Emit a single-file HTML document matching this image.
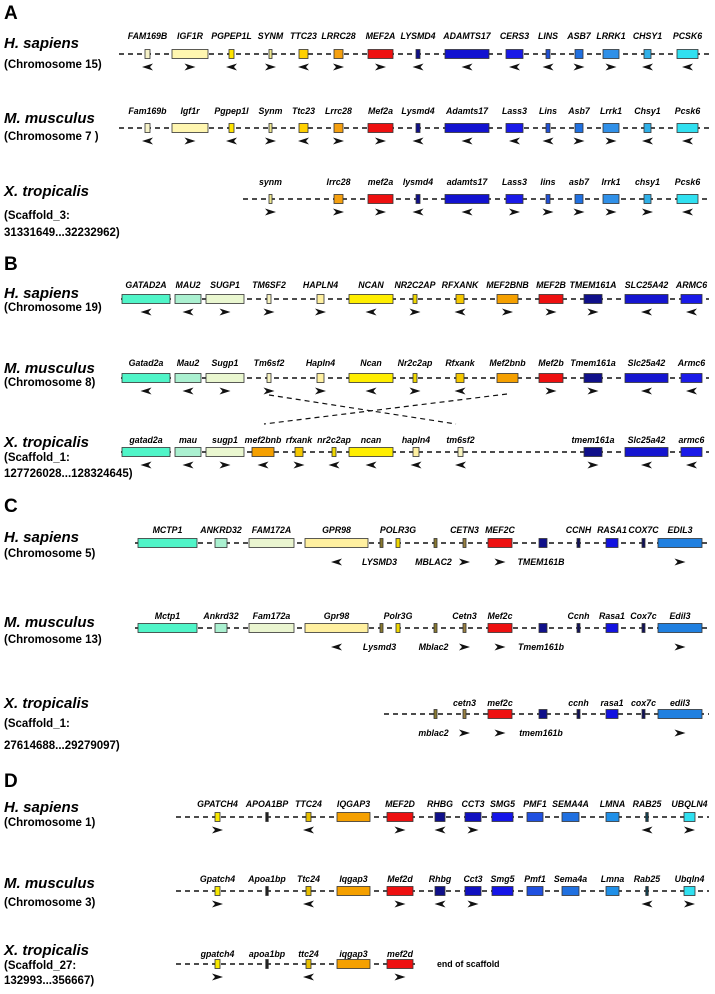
<!DOCTYPE html>
<html><head><meta charset="utf-8"><style>
html,body{margin:0;padding:0;background:#fff;}
svg{display:block;font-family:"Liberation Sans",sans-serif;}
.sp{font-size:15px;font-weight:bold;font-style:italic;}
.sub{font-size:11.5px;font-weight:bold;}
.pl{font-size:19px;font-weight:bold;}
.g{font-size:8.8px;font-weight:bold;font-style:italic;}
</style></head><body>
<svg id="chart" width="715" height="994" viewBox="0 0 715 994" xmlns="http://www.w3.org/2000/svg">
<g>
<text class="pl" x="4" y="19">A</text><text class="pl" x="4" y="270">B</text><text class="pl" x="4" y="512">C</text><text class="pl" x="4" y="787">D</text>
</g>
<g>
<text class="sp" x="4" y="48">H. sapiens</text><text class="sub" x="4" y="68">(Chromosome 15)</text>
<text class="sp" x="4" y="123">M. musculus</text><text class="sub" x="4" y="140">(Chromosome 7 )</text>
<text class="sp" x="4" y="196">X. tropicalis</text><text class="sub" x="4" y="219">(Scaffold_3:</text><text class="sub" x="4" y="236">31331649...32232962)</text>
<text class="sp" x="4" y="298">H. sapiens</text><text class="sub" x="4" y="311">(Chromosome 19)</text>
<text class="sp" x="4" y="373">M. musculus</text><text class="sub" x="4" y="386">(Chromosome 8)</text>
<text class="sp" x="4" y="447">X. tropicalis</text><text class="sub" x="4" y="461">(Scaffold_1:</text><text class="sub" x="4" y="477">127726028...128324645)</text>
<text class="sp" x="4" y="542">H. sapiens</text><text class="sub" x="4" y="557">(Chromosome 5)</text>
<text class="sp" x="4" y="627">M. musculus</text><text class="sub" x="4" y="643">(Chromosome 13)</text>
<text class="sp" x="4" y="708">X. tropicalis</text><text class="sub" x="4" y="727">(Scaffold_1:</text><text class="sub" x="4" y="749">27614688...29279097)</text>
<text class="sp" x="4" y="812">H. sapiens</text><text class="sub" x="4" y="826">(Chromosome 1)</text>
<text class="sp" x="4" y="888">M. musculus</text><text class="sub" x="4" y="906">(Chromosome 3)</text>
<text class="sp" x="4" y="955">X. tropicalis</text><text class="sub" x="4" y="969">(Scaffold_27:</text><text class="sub" x="4" y="984">132993...356667)</text>
</g>
<g id="rows"></g>
<line x1="269" y1="395" x2="456" y2="424" stroke="#111" stroke-width="1.2" stroke-dasharray="5,4"/>
<line x1="507" y1="394" x2="264" y2="424" stroke="#111" stroke-width="1.2" stroke-dasharray="5,4"/>
<text x="437" y="967" font-size="8.8" font-weight="bold">end of scaffold</text>
</svg>
<script>
const genesA = [["fam169b",145,150,"#f6f2c8"],["igf1r",172,208,"#fff6b0"],["pgpep1l",229,234,"#ffe400"],["synm",269,272,"#f0e890"],["ttc23",299,308,"#ffd000"],["lrrc28",334,343,"#f5a010"],["mef2a",368,393,"#ee1010"],["lysmd4",416,420,"#10108a"],["adamts17",445,489,"#1212d0"],["cers3",506,523,"#1a1ae8"],["lins",546,550,"#2050d8"],["asb7",575,583,"#2070e0"],["lrrk1",603,619,"#3090e8"],["chsy1",644,651,"#30b0e8"],["pcsk6",677,698,"#30e0f0"]];
const genesB = [["gatad2a",122,170,"#50f5c8"],["mau2",175,201,"#aaf0d0"],["sugp1",206,244,"#eaf7d0"],["tm6sf2",267,271,"#f8f4c0"],["hapln4",317,324,"#fff0a0"],["ncan",349,393,"#ffee00"],["nr2c2ap",413,417,"#f0d800"],["rfxank",456,464,"#f5c800"],["mef2bnb",497,518,"#f5a000"],["mef2b",539,563,"#ee1010"],["tmem161a",584,602,"#10108a"],["slc25a42",625,668,"#1515d0"],["armc6",681,702,"#1a1ae8"],
 ["x_mef2bnb",252,274,"#f5a000"],["x_rfxank",295,303,"#f5c800"],["x_nr2c2ap",332,336,"#f0d800"],["x_hapln4",413,419,"#fff0a0"],["x_tm6sf2",458,463,"#f8f4c0"]];
const genesC = [["mctp1",138,197,"#50f5c8"],["ankrd32",215,227,"#aaf0d0"],["fam172a",249,294,"#eaf5d0"],["gpr98",305,368,"#fff0a0"],["lysmd3",380,383,"#8a7a30"],["polr3g",396,400,"#f0d800"],["mblac2",434,437,"#8a7a30"],["cetn3",463,466,"#9a8040"],["mef2c",488,512,"#ee1010"],["tmem161b",539,547,"#10108a"],["ccnh",577,580,"#10105a"],["rasa1",606,618,"#1212e0"],["cox7c",642,645,"#10105a"],["edil3",658,702,"#2080e0"]];
const genesD = [["gpatch4",215,220,"#f8e800"],["apoa1bp",266,268,"#202020"],["ttc24",306,311,"#e8c000"],["iqgap3",337,370,"#f5a000"],["mef2d",387,413,"#ee1010"],["rhbg",435,445,"#10108a"],["cct3",465,481,"#1010c0"],["smg5",492,513,"#1515e8"],["pmf1",527,543,"#2050e0"],["sema4a",562,579,"#2070e0"],["lmna",606,619,"#2090e8"],["rab25",646,648,"#104050"],["ubqln4",684,695,"#30e0f0"]];

const rowLines = [[54,119,709,-18],[128,119,709,-17],[199,243,709,-17],[299,121,709,-14],[378,121,709,-15],[452,121,709,-12],[543,135,709,-13],[628,135,709,-12],[714,384,709,-11],[817,176,709,-13],[891,176,709,-12],[964,176,419,-10]];

const rowGenes = [
 [["fam169b","FAM169B",-1],["igf1r","IGF1R",1],["pgpep1l","PGPEP1L",-1],["synm","SYNM",1],["ttc23","TTC23",-1],["lrrc28","LRRC28",1],["mef2a","MEF2A",1],["lysmd4","LYSMD4",-1],["adamts17","ADAMTS17",-1],["cers3","CERS3",-1],["lins","LINS",-1],["asb7","ASB7",1],["lrrk1","LRRK1",1],["chsy1","CHSY1",-1],["pcsk6","PCSK6",-1]],
 [["fam169b","Fam169b",-1],["igf1r","Igf1r",1],["pgpep1l","Pgpep1l",-1],["synm","Synm",1],["ttc23","Ttc23",-1],["lrrc28","Lrrc28",1],["mef2a","Mef2a",1],["lysmd4","Lysmd4",-1],["adamts17","Adamts17",-1],["cers3","Lass3",-1],["lins","Lins",-1],["asb7","Asb7",1],["lrrk1","Lrrk1",1],["chsy1","Chsy1",-1],["pcsk6","Pcsk6",-1]],
 [["synm","synm",1],["lrrc28","lrrc28",1],["mef2a","mef2a",1],["lysmd4","lysmd4",-1],["adamts17","adamts17",-1],["cers3","Lass3",1],["lins","lins",1],["asb7","asb7",1],["lrrk1","lrrk1",1],["chsy1","chsy1",1],["pcsk6","Pcsk6",-1]],
 [["gatad2a","GATAD2A",-1],["mau2","MAU2",-1],["sugp1","SUGP1",1],["tm6sf2","TM6SF2",1],["hapln4","HAPLN4",1],["ncan","NCAN",-1],["nr2c2ap","NR2C2AP",1],["rfxank","RFXANK",-1],["mef2bnb","MEF2BNB",1],["mef2b","MEF2B",1],["tmem161a","TMEM161A",1],["slc25a42","SLC25A42",-1],["armc6","ARMC6",-1]],
 [["gatad2a","Gatad2a",-1],["mau2","Mau2",-1],["sugp1","Sugp1",1],["tm6sf2","Tm6sf2",1],["hapln4","Hapln4",1],["ncan","Ncan",-1],["nr2c2ap","Nr2c2ap",1],["rfxank","Rfxank",-1],["mef2bnb","Mef2bnb",0],["mef2b","Mef2b",1],["tmem161a","Tmem161a",1],["slc25a42","Slc25a42",-1],["armc6","Armc6",-1]],
 [["gatad2a","gatad2a",-1],["mau2","mau",-1],["sugp1","sugp1",1],["x_mef2bnb","mef2bnb",-1],["x_rfxank","rfxank",1],["x_nr2c2ap","nr2c2ap",-1],["ncan","ncan",-1],["x_hapln4","hapln4",-1],["x_tm6sf2","tm6sf2",-1],["tmem161a","tmem161a",1],["slc25a42","Slc25a42",-1],["armc6","armc6",-1]],
 [["mctp1","MCTP1",0],["ankrd32","ANKRD32",0],["fam172a","FAM172A",0],["gpr98","GPR98",-1],["lysmd3","LYSMD3",0,"b"],["polr3g","POLR3G",0],["mblac2","MBLAC2",0,"b"],["cetn3","CETN3",1],["mef2c","MEF2C",1],["tmem161b","TMEM161B",0,"b"],["ccnh","CCNH",0],["rasa1","RASA1",0],["cox7c","COX7C",0],["edil3","EDIL3",1]],
 [["mctp1","Mctp1",0],["ankrd32","Ankrd32",0],["fam172a","Fam172a",0],["gpr98","Gpr98",-1],["lysmd3","Lysmd3",0,"b"],["polr3g","Polr3G",0],["mblac2","Mblac2",0,"b"],["cetn3","Cetn3",1],["mef2c","Mef2c",1],["tmem161b","Tmem161b",0,"b"],["ccnh","Ccnh",0],["rasa1","Rasa1",0],["cox7c","Cox7c",0],["edil3","Edil3",1]],
 [["mblac2","mblac2",0,"b"],["cetn3","cetn3",1],["mef2c","mef2c",1],["tmem161b","tmem161b",0,"b"],["ccnh","ccnh",0],["rasa1","rasa1",0],["cox7c","cox7c",0],["edil3","edil3",1]],
 [["gpatch4","GPATCH4",1],["apoa1bp","APOA1BP",0],["ttc24","TTC24",-1],["iqgap3","IQGAP3",0],["mef2d","MEF2D",1],["rhbg","RHBG",-1],["cct3","CCT3",1],["smg5","SMG5",0],["pmf1","PMF1",0],["sema4a","SEMA4A",0],["lmna","LMNA",0],["rab25","RAB25",-1],["ubqln4","UBQLN4",1]],
 [["gpatch4","Gpatch4",1],["apoa1bp","Apoa1bp",0],["ttc24","Ttc24",-1],["iqgap3","Iqgap3",0],["mef2d","Mef2d",1],["rhbg","Rhbg",-1],["cct3","Cct3",1],["smg5","Smg5",0],["pmf1","Pmf1",0],["sema4a","Sema4a",0],["lmna","Lmna",0],["rab25","Rab25",-1],["ubqln4","Ubqln4",1]],
 [["gpatch4","gpatch4",1],["apoa1bp","apoa1bp",0],["ttc24","ttc24",-1],["iqgap3","iqgap3",0],["mef2d","mef2d",1]]
];
const rowTemplates = [genesA,genesA,genesA,genesB,genesB,genesB,genesC,genesC,genesC,genesD,genesD,genesD];

const NS="http://www.w3.org/2000/svg";
const root=document.getElementById("rows");
function mk(t,a){const e=document.createElementNS(NS,t);for(const k in a)e.setAttribute(k,a[k]);return e;}
rowLines.forEach((rl,ri)=>{
  const [ly,x0,x1,lo]=rl;
  const g=mk("g",{});
  
  
  const ln=mk("line",{x1:x0,x2:x1,y1:ly,y2:ly,stroke:"#111","stroke-width":1.4,"stroke-dasharray":"5,4"});
  
  
  g.appendChild(ln);
  const tpl=rowTemplates[ri];
  rowGenes[ri].forEach(ge=>{
    const t=tpl.find(q=>q[0]===ge[0]);
    const cx=(t[1]+t[2])/2;
    const w=Math.max(t[2]-t[1],2.5);
    const r=mk("rect",{x:cx-w/2,y:ly-4.5,width:w,height:9,fill:t[3],stroke:"#333","stroke-width":0.8});
    
    
    g.appendChild(r);
    const below=ge[3]==="b";
    const lab=mk("text",{class:"g",x:below?cx-2:cx,y:below?ly+22:ly+lo+3,"text-anchor":"middle"});
    lab.textContent=ge[1];
    
    
    g.appendChild(lab);
    if(ge[2]!==0){
      const ay = ri>=6&&ri<=8 ? ly+19 : ly+13;
      const d=ge[2];
      const p=mk("path",{d:"M-5.5,-3.5 L5.5,0 L-5.5,3.5 L-2.5,0 Z",fill:"#111",transform:`translate(${cx},${ay}) scale(${d},1)`});
      
      
      g.appendChild(p);
    }
  });
  root.appendChild(g);
});
</script>
</body></html>
